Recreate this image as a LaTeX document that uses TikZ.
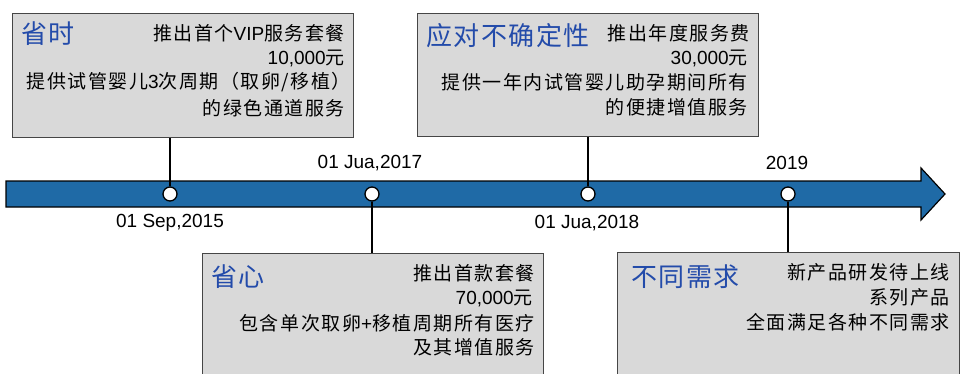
\documentclass[tikz,border=0pt]{standalone}
\usepackage{fontspec}
\setmainfont{Liberation Sans}
\newfontfamily\cjk[LetterSpace=8]{Noto Sans CJK SC}
\newfontfamily\cjkttl[LetterSpace=6]{Noto Sans CJK SC}
\definecolor{tlblue}{RGB}{31,106,166}
\definecolor{boxgray}{RGB}{217,217,217}
\definecolor{boxline}{RGB}{70,70,70}
\definecolor{titleblue}{RGB}{35,75,170}
\begin{document}
\begin{tikzpicture}[x=1pt,y=-1pt,
  infobox/.style={draw=boxline, fill=boxgray, line width=1.2pt, anchor=north west, inner sep=0, rectangle},
  dot/.style={circle, draw=black, fill=white, line width=1.3pt, minimum size=14pt, inner sep=0},
  link/.style={draw=black, line width=1.6pt},
  ttl/.style={font=\fontsize{26}{28}\selectfont\cjkttl, text=titleblue, inner sep=0, anchor=west},
  txt/.style={font=\fontsize{19}{22}\selectfont, inner sep=0, anchor=east},
  datelbl/.style={font=\fontsize{19}{22}\selectfont, inner sep=0}]
\useasboundingbox (0,0) rectangle (965,374);
\clip (0,0) rectangle (965,374);
% boxes
\node[infobox, minimum width=341pt, minimum height=124pt] (b1) at (12,13) {};
\node[infobox, minimum width=341pt, minimum height=123pt] (b2) at (417,13) {};
\node[infobox, minimum width=341pt, minimum height=140pt] (b3) at (202,253) {};
\node[infobox, minimum width=342pt, minimum height=140pt] (b4) at (617,252) {};
% arrow
\fill[tlblue, draw=black, line width=1.2pt] (6,181) -- (921,181) -- (921,168) -- (945,194) -- (921,220) -- (921,207) -- (6,207) -- cycle;
% dots
\node[dot] (c1) at (170,194) {};
\node[dot] (c2) at (372,194) {};
\node[dot] (c3) at (588,194) {};
\node[dot] (c4) at (788,194) {};
% links
\draw[link] (c1 |- b1.south) -- (c1.north);
\draw[link] (c3 |- b2.south) -- (c3.north);
\draw[link] (c2.south) -- (c2 |- b3.north);
\draw[link] (c4.south) -- (c4 |- b4.north);
% dates
\node[datelbl] (d1) at (170,223) {01 Sep,2015};
\node[datelbl] (d2) at (370,163) {01 Jua,2017};
\node[datelbl] (d3) at (587,223) {01 Jua,2018};
\node[datelbl] (d4) at (787,163) {2019};
% box 1
\node[ttl] (t1) at (21,34) {省时};
\node[txt] (l11) at (345,33) {{\cjk 推出首个}VIP{\cjk 服务套餐}};
\node[txt] (l12) at (345,58) {10,000{\cjk 元}};
\node[txt] (l13) at (351,82) {{\cjk 提供试管婴儿}3{\cjk 次周期（取卵/移植）}};
\node[txt] (l14) at (345,108) {\cjk 的绿色通道服务};
% box 2
\node[ttl] (t2) at (426,36) {应对不确定性};
\node[txt] (l21) at (750,33) {\cjk 推出年度服务费};
\node[txt] (l22) at (748,58) {30,000{\cjk 元}};
\node[txt] (l23) at (748,82) {\cjk 提供一年内试管婴儿助孕期间所有};
\node[txt] (l24) at (748,107) {\cjk 的便捷增值服务};
% box 3
\node[ttl] (t3) at (211,277) {省心};
\node[txt] (l31) at (535,273) {\cjk 推出首款套餐};
\node[txt] (l32) at (533,298) {70,000{\cjk 元}};
\node[txt] (l33) at (535,323) {{\cjk 包含单次取卵}+{\cjk 移植周期所有医疗}};
\node[txt] (l34) at (535,347) {\cjk 及其增值服务};
% box 4
\node[ttl] (t4) at (631,277) {不同需求};
\node[txt] (l41) at (950,272) {\cjk 新产品研发待上线};
\node[txt] (l42) at (950,297) {\cjk 系列产品};
\node[txt] (l43) at (950,322) {\cjk 全面满足各种不同需求};
\end{tikzpicture}
\end{document}
